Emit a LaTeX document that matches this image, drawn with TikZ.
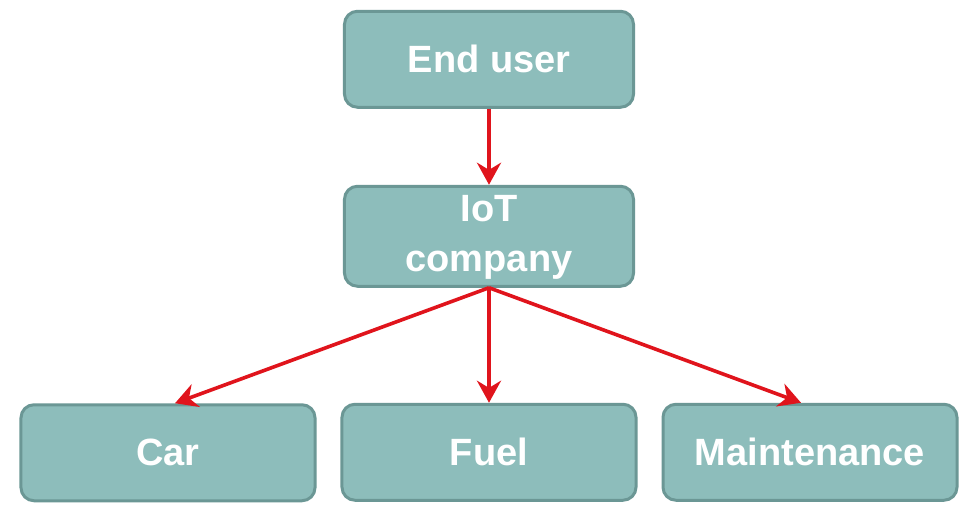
\documentclass[tikz,border=0pt]{standalone}
\usepackage{fontspec}
\setmainfont{Liberation Sans}
\usetikzlibrary{matrix,arrows.meta}
\definecolor{boxfill}{HTML}{8DBDBB}
\definecolor{boxline}{HTML}{6B9795}
\definecolor{linkred}{HTML}{E0141C}

\begin{document}
\begin{tikzpicture}[x=1pt,y=1pt,
    block/.style={draw=boxline,line width=3pt,fill=boxfill,rounded corners=13pt,
        minimum width=294pt,minimum height=96pt,text=white,
        font=\bfseries\fontsize{38}{50}\selectfont},
    link/.style={draw=linkred,line width=3.6pt,-{Stealth[length=22pt,width=24pt]}}]
    \useasboundingbox[fill=white] (0,0) rectangle (960,504);
    \matrix (chart) [matrix of nodes,nodes={block},column sep=24pt,inner sep=0pt,
        ampersand replacement=\&] at (489,248) {
        \& |[minimum width=289pt]| End user \& \\[76pt]
        \& |[minimum width=289pt]| \begin{tabular}{@{}c@{}}IoT\tabularnewline company\end{tabular} \& \\[115pt]
        Car \& Fuel \& Maintenance \\
    };
    \draw[link] (chart-1-2.south) -- (chart-2-2.north);
    \draw[link] (chart-2-2.south) -- ([xshift=7pt]chart-3-1.north);
    \draw[link] (chart-2-2.south) -- (chart-3-2.north);
    \draw[link] (chart-2-2.south) -- ([xshift=-9pt]chart-3-3.north);
\end{tikzpicture}
\end{document}
